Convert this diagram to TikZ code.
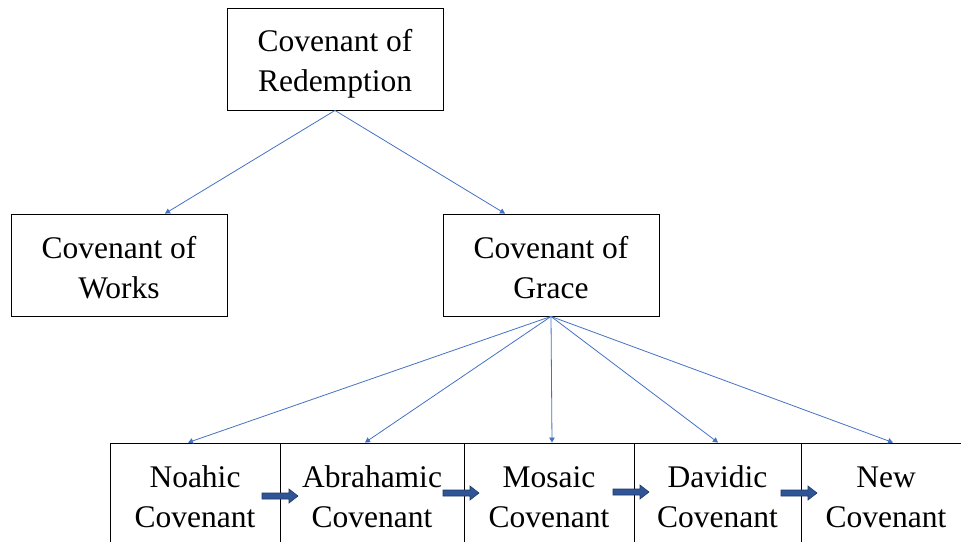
\documentclass[tikz,border=0pt]{standalone}
\usepackage{fontspec}
\setmainfont{Liberation Serif}
\usetikzlibrary{arrows.meta,calc}
\definecolor{linkblue}{RGB}{68,114,196}
\definecolor{blockfill}{RGB}{47,85,151}
\definecolor{blockedge}{RGB}{31,56,100}
\tikzset{
  box/.style={draw=black, line width=0.9pt, inner sep=0pt, align=center,
    font=\fontsize{31.5}{40}\selectfont, minimum height=102pt},
  link/.style={draw=linkblue, line width=0.8pt, -{Triangle[width=5.5pt,length=5pt]}},
  blockarrow/.style={fill=blockfill, draw=blockedge, line width=0.6pt}
}
\newcommand{\blockarr}[2]{% x start, y center
  \path[blockarrow] (#1,#2-3) -- (#1+27,#2-3) -- (#1+27,#2-7) -- (#1+36,#2) -- (#1+27,#2+7) -- (#1+27,#2+3) -- (#1,#2+3) -- cycle;}
\newcommand{\lowstrut}{\rule{0pt}{31pt}}
\begin{document}
\begin{tikzpicture}[x=1pt,y=-1pt]
\useasboundingbox (0,0) rectangle (961,541);
\clip (0,0) rectangle (961,541);
\fill[white] (0,0) rectangle (961,541);
\node[box, minimum width=216pt] (red) at (335,59) {\lowstrut Covenant of\\Redemption};
\node[box, minimum width=216pt] (works) at (119,265) {\rule{0pt}{28pt}Covenant of\\Works};
\node[box, minimum width=216pt] (grace) at (551,265) {\rule{0pt}{28pt}Covenant of\\Grace};
\node[box, minimum width=170pt, minimum height=108pt] (noah) at (195,497) {Noahic\\Covenant};
\node[box, minimum width=184pt, minimum height=108pt] (abr) at (372,497) {Abrahamic\\Covenant};
\node[box, minimum width=170pt, minimum height=108pt] (mos) at (549,497) {Mosaic\\Covenant};
\node[box, minimum width=167pt, minimum height=108pt] (dav) at (717.5,497) {Davidic\\Covenant};
\node[box, minimum width=170pt, minimum height=108pt] (new) at (886,497) {New\\Covenant};
\draw[link] (red.south) -- ($(works.north)+(46,0)$);
\draw[link] (red.south) -- ($(grace.north)+(-46,0)$);
\draw[link] (grace.south) -- ($(noah.north)+(-7,0)$);
\draw[link] (grace.south) -- ($(abr.north)+(-7,0)$);
\draw[link] (grace.south) -- ($(mos.north)+(3,0)$);
\draw[link] (grace.south) -- ($(dav.north)+(0.5,0)$);
\draw[link] (grace.south) -- ($(new.north)+(7,0)$);
\blockarr{262}{496}
\blockarr{443}{493}
\blockarr{613}{492}
\blockarr{781}{493}
\end{tikzpicture}
\end{document}
